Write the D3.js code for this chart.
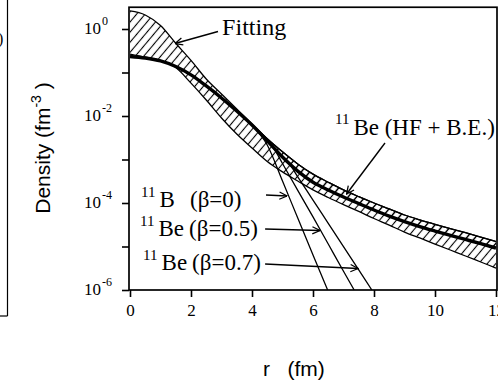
<!DOCTYPE html>
<html>
<head>
<meta charset="utf-8">
<script src="https://cdn.jsdelivr.net/npm/d3@7"></script>
<style>
  html, body { margin: 0; padding: 0; background: #fff; }
  svg { display: block; }
</style>
</head>
<body>
<svg id="chart" width="498" height="384"></svg>
<script>
// Radial grid (fm)
const radius = [0, 0.5, 1, 1.5, 2, 2.5, 3, 3.5, 4, 4.5, 5, 5.5, 6, 6.5, 7, 7.5, 8, 8.5, 9, 9.5, 10, 10.5, 11, 11.5, 12];

// Density band from the fitting (fm^-3): upper and lower bounds
const fitMax = [2.6, 2.1, 1.2, 0.47, 0.19, 0.071, 0.032, 0.0145, 0.00655, 0.0030, 0.0015, 7.9e-4, 4.6e-4, 3.0e-4, 2.0e-4, 1.4e-4, 1.0e-4, 7.3e-5, 5.3e-5, 4.1e-5, 3.24e-5, 2.59e-5, 2.08e-5, 1.65e-5, 1.3e-5];
const fitMin = [0.266, 0.227, 0.189, 0.130, 0.057, 0.0233, 0.0090, 0.00386, 0.00184, 9.0e-4, 5.2e-4, 3.2e-4, 2.0e-4, 1.34e-4, 9.2e-5, 6.4e-5, 4.4e-5, 3.1e-5, 2.15e-5, 1.57e-5, 1.14e-5, 8.3e-6, 6.05e-6, 4.4e-6, 3.2e-6];

// 11Be (HF + B.E.) band: lower bound (heavy curve) and upper bound
const hfMin = [0.233, 0.215, 0.184, 0.137, 0.088, 0.049, 0.026, 0.013, 0.0062, 0.0027, 0.00114, 5.4e-4, 3.0e-4, 2.0e-4, 1.37e-4, 9.7e-5, 6.9e-5, 5.0e-5, 3.75e-5, 2.88e-5, 2.27e-5, 1.81e-5, 1.45e-5, 1.16e-5, 9.2e-6];
const hfMax = [0.233, 0.215, 0.184, 0.137, 0.088, 0.049, 0.026, 0.013, 0.0062, 0.0030, 0.0015, 7.9e-4, 4.6e-4, 3.0e-4, 2.0e-4, 1.4e-4, 1.0e-4, 7.3e-5, 5.3e-5, 4.1e-5, 3.24e-5, 2.59e-5, 2.08e-5, 1.65e-5, 1.3e-5];

// Deformed-density tails
const beta0R = [4.0, 4.5, 5.0, 5.5, 6.0, 6.48];
const beta0 = [0.0062, 0.00215, 3.2e-4, 4.5e-5, 6.4e-6, 1.0e-6];
const beta05R = [4.0, 4.5, 4.75, 5.0, 5.5, 6.0, 6.5, 7.0, 7.35];
const beta05 = [0.0062, 0.0027, 0.00165, 8.1e-4, 1.95e-4, 4.8e-5, 1.14e-5, 2.7e-6, 1.0e-6];
const beta07R = [4.0, 4.5, 5.0, 5.25, 5.5, 6.0, 6.5, 7.0, 7.5, 7.93];
const beta07 = [0.0062, 0.0027, 0.00114, 7.5e-4, 4.0e-4, 1.17e-4, 3.4e-5, 9.9e-6, 2.9e-6, 1.0e-6];

// Axis ticks
const xTicks = [0, 2, 4, 6, 8, 10, 12];
const yMajorExp = [0, -2, -4, -6];
const yMinorExp = [-1, -3, -5];

// Labels and arrows (r in fm, density in fm^-3)
const betaMain = ["B", "Be", "Be"];
const betaTail = ["(β=0)", "(β=0.5)", "(β=0.7)"];
const betaLabelAt = [[0.36, 8.1e-5], [0.33, 1.74e-5], [0.43, 2.9e-6]];
const betaArrowFrom = [[4.46, 1.53e-4], [4.43, 2.52e-5], [4.43, 3.96e-6]];
const betaArrowTo = [[5.15, 1.45e-4], [6.23, 2.33e-5], [7.48, 3.12e-6]];
const fitLabelAt = [3.02, 0.73];
const fitArrowFrom = [2.885, 0.876];
const fitArrowTo = [1.475, 0.464];
const hfLabelAt = [6.72, 0.00366];
const hfArrowFrom = [8.36, 0.00239];
const hfArrowTo = [7.10, 1.61e-4];

const serif = "'Liberation Serif', 'Times New Roman', serif";
const sans = "'Liberation Sans', Arial, sans-serif";

const svg = d3.select("#chart");
const plotLeft = 129, plotRight = 497, plotTop = 7.25, plotBottom = 290;

const x = d3.scaleLinear().domain([0, 12]).range([130, 496]);
const y = d3.scaleLog().domain([1e-6, Math.pow(10, 0.5)]).range([plotBottom, plotTop]);

const defs = svg.append("defs");
const hatch = defs.append("pattern")
  .attr("id", "hatch")
  .attr("patternUnits", "userSpaceOnUse")
  .attr("width", 6.5).attr("height", 6.5)
  .attr("patternTransform", "rotate(40)");
hatch.append("line")
  .attr("x1", 3.25).attr("y1", 0).attr("x2", 3.25).attr("y2", 6.5)
  .attr("stroke", "#000").attr("stroke-width", 1.1);

defs.append("clipPath").attr("id", "plotClip")
  .append("rect").attr("x", plotLeft).attr("y", plotTop)
  .attr("width", plotRight - plotLeft).attr("height", plotBottom - plotTop);

const head = defs.append("marker")
  .attr("id", "arrowHead")
  .attr("viewBox", "0 0 10 10")
  .attr("refX", 9.5).attr("refY", 5)
  .attr("markerUnits", "userSpaceOnUse")
  .attr("markerWidth", 9).attr("markerHeight", 9)
  .attr("orient", "auto");
head.append("path").attr("d", "M1,1 L9.5,5 L1,9")
  .attr("fill", "none").attr("stroke", "#000").attr("stroke-width", 1.4);

// Neighbouring panel edge on the far left
svg.append("line").attr("x1", 7.5).attr("y1", 0).attr("x2", 7.5).attr("y2", 316)
  .attr("stroke", "#000").attr("stroke-width", 1.2);
svg.append("line").attr("x1", 0).attr("y1", 316).attr("x2", 7.5).attr("y2", 316)
  .attr("stroke", "#000").attr("stroke-width", 1.2);
svg.append("text").attr("x", -2).attr("y", 44).text(")")
  .style("font-family", serif).style("font-size", "16px");

const plot = svg.append("g").attr("clip-path", "url(#plotClip)");

const band = (lo, hi) => d3.area()
  .x((d, i) => x(radius[i]))
  .y0((d, i) => y(lo[i]))
  .y1((d, i) => y(hi[i]))
  .curve(d3.curveMonotoneX);

const curve = (xs) => d3.line()
  .x((d, i) => x(xs[i]))
  .y(d => y(d))
  .curve(d3.curveMonotoneX);

plot.append("path").datum(fitMin)
  .attr("d", band(fitMin, fitMax))
  .attr("fill", "url(#hatch)");
plot.append("path").datum(hfMin)
  .attr("d", band(hfMin, hfMax))
  .attr("fill", "url(#hatch)");

[[fitMax, 1.3], [fitMin, 1.3], [hfMax, 1.3]].forEach(([vals, w]) => {
  plot.append("path").datum(vals)
    .attr("d", curve(radius))
    .attr("fill", "none").attr("stroke", "#000").attr("stroke-width", w);
});

[[beta0R, beta0], [beta05R, beta05], [beta07R, beta07]].forEach(([rs, vals]) => {
  plot.append("path").datum(vals)
    .attr("d", curve(rs))
    .attr("fill", "none").attr("stroke", "#000").attr("stroke-width", 1.3);
});

plot.append("path").datum(hfMin)
  .attr("d", curve(radius))
  .attr("fill", "none").attr("stroke", "#000").attr("stroke-width", 3.4)
  .attr("stroke-linejoin", "round");

// Frame
svg.append("rect")
  .attr("x", plotLeft).attr("y", plotTop)
  .attr("width", plotRight - plotLeft).attr("height", plotBottom - plotTop)
  .attr("fill", "none").attr("stroke", "#000").attr("stroke-width", 1.7);

// X axis
const xAxis = svg.append("g")
  .attr("transform", `translate(0,${plotBottom})`)
  .call(d3.axisBottom(x).tickValues(xTicks).tickSize(7).tickPadding(7).tickFormat(d3.format("d")));
xAxis.select(".domain").remove();
xAxis.selectAll(".tick text")
  .style("font-family", serif).style("font-size", "17px").attr("fill", "#000");

// Y axis: major and minor ticks
const yAxis = svg.append("g")
  .attr("transform", `translate(${plotLeft},0)`)
  .call(d3.axisLeft(y).tickValues(yMajorExp.map(e => Math.pow(10, e))).tickSize(7).tickFormat(""));
yAxis.select(".domain").remove();
const yMinor = svg.append("g")
  .attr("transform", `translate(${plotLeft},0)`)
  .call(d3.axisLeft(y).tickValues(yMinorExp.map(e => Math.pow(10, e))).tickSize(7).tickFormat(""));
yMinor.select(".domain").remove();
svg.selectAll(".tick line").attr("stroke", "#000").attr("stroke-width", 1.6);

yMajorExp.forEach(e => {
  const t = svg.append("text")
    .attr("x", 84).attr("y", y(Math.pow(10, e)) + 5)
    .style("font-family", serif).attr("fill", "#000");
  t.append("tspan").text("10").style("font-size", "17px");
  t.append("tspan").text(e === 0 ? "0" : "-" + Math.abs(e))
    .attr("dy", -9).attr("dx", 1).style("font-size", "12px");
});

// Axis titles
svg.append("text")
  .attr("transform", `translate(50,148) rotate(-90)`)
  .attr("text-anchor", "middle")
  .style("font-family", sans).style("font-size", "21px").attr("fill", "#000")
  .call(t => {
    t.append("tspan").text("Density (fm");
    t.append("tspan").text("-3").attr("dy", -9).style("font-size", "14px");
    t.append("tspan").text(" )").attr("dy", 9);
  });

svg.append("text")
  .attr("x", 263).attr("y", 376)
  .style("font-family", sans).style("font-size", "21px").attr("fill", "#000")
  .style("white-space", "pre")
  .text("r   (fm)");

// Annotations
function arrow(from, to) {
  svg.append("line")
    .attr("x1", x(from[0])).attr("y1", y(from[1]))
    .attr("x2", x(to[0])).attr("y2", y(to[1]))
    .attr("stroke", "#000").attr("stroke-width", 1.4)
    .attr("marker-end", "url(#arrowHead)");
}

svg.append("text")
  .attr("x", x(fitLabelAt[0])).attr("y", y(fitLabelAt[1]))
  .style("font-family", serif).style("font-size", "24px").attr("fill", "#000")
  .text("Fitting");
arrow(fitArrowFrom, fitArrowTo);

const hfLabel = svg.append("text")
  .attr("x", x(hfLabelAt[0])).attr("y", y(hfLabelAt[1]))
  .style("font-family", serif).attr("fill", "#000");
hfLabel.append("tspan").text("11").attr("dy", -11).style("font-size", "15px");
hfLabel.append("tspan").text("Be (HF + B.E.)").attr("dy", 11).attr("dx", 4).style("font-size", "23px");
arrow(hfArrowFrom, hfArrowTo);

betaLabelAt.forEach((p, i) => {
  const px = x(p[0]), py = y(p[1]);
  const t = svg.append("text")
    .attr("x", px).attr("y", py)
    .style("font-family", serif).attr("fill", "#000");
  t.append("tspan").text("11").attr("dy", -10).style("font-size", "15px");
  t.append("tspan").text(betaMain[i]).attr("dy", 10).attr("dx", 4).style("font-size", "23px");
  t.append("tspan").text(betaTail[i]).attr("x", px + 49).style("font-size", "23px");
  arrow(betaArrowFrom[i], betaArrowTo[i]);
});
</script>
</body>
</html>
